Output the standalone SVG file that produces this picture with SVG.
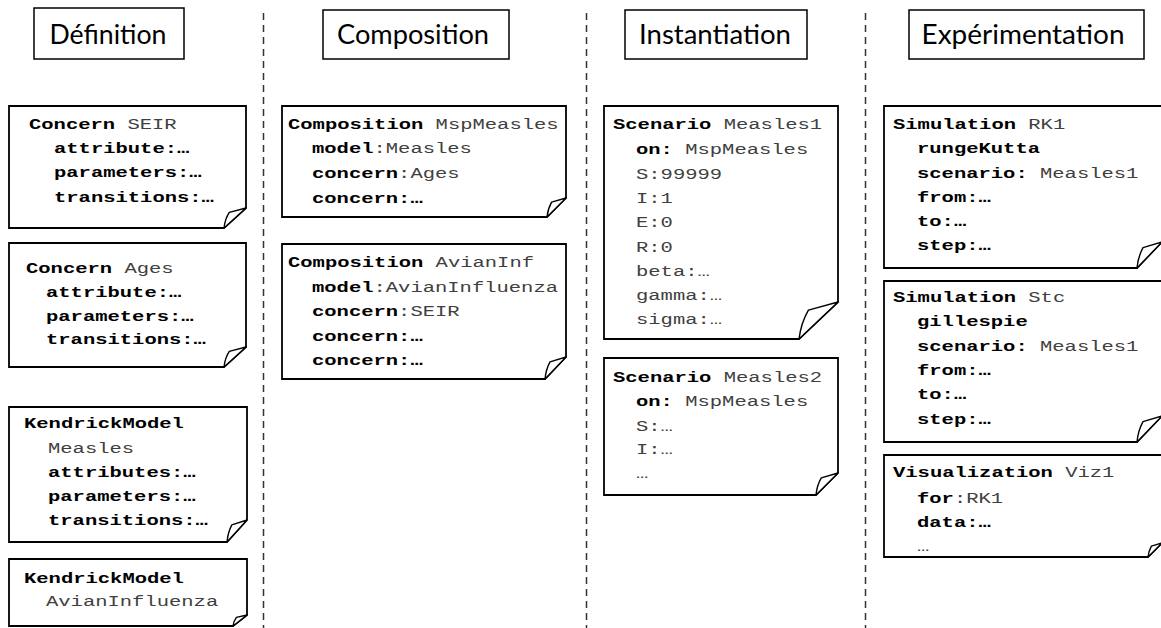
<svg xmlns="http://www.w3.org/2000/svg" width="1161" height="628" viewBox="0 0 1161 628">
<style>
.bg{fill:#fff}
.note{fill:#fff;stroke:#000;stroke-width:1.8;stroke-linejoin:miter}
.flap{fill:#fff;stroke:#000;stroke-width:1.4;stroke-linejoin:round}
.hbox{fill:#fff;stroke:#000;stroke-width:1.5}
.htxt{font-family:Lato,"Open Sans",sans-serif;font-size:26px;fill:#000;text-anchor:middle}
.sep{stroke:#333;stroke-width:1.5;stroke-dasharray:7 5;fill:none}
.m{font-family:"Liberation Mono","DejaVu Sans Mono",monospace;font-size:15.5px;fill:#404040}
.k{font-weight:bold;fill:#000}
</style>
<rect class="bg" x="0" y="0" width="1161" height="628"/>
<g id="separators">
<line class="sep" x1="263.5" y1="13" x2="263.5" y2="628"/>
<line class="sep" x1="586.5" y1="13" x2="586.5" y2="628"/>
<line class="sep" x1="865.5" y1="13" x2="865.5" y2="628"/>
</g>
<g id="hdr-definition"><rect class="hbox" x="34" y="8" width="150" height="51"/><text class="htxt" x="108" y="44" textLength="117" lengthAdjust="spacingAndGlyphs">Définition</text></g>
<g id="hdr-composition"><rect class="hbox" x="323" y="10" width="186" height="49"/><text class="htxt" x="413" y="44" textLength="152" lengthAdjust="spacingAndGlyphs">Composition</text></g>
<g id="hdr-instantiation"><rect class="hbox" x="625" y="10" width="182" height="49"/><text class="htxt" x="715" y="44" textLength="152" lengthAdjust="spacingAndGlyphs">Instantiation</text></g>
<g id="hdr-experimentation"><rect class="hbox" x="909" y="10" width="235" height="49"/><text class="htxt" x="1023" y="44" textLength="203" lengthAdjust="spacingAndGlyphs">Expérimentation</text></g>

<g id="concern-seir">
<path class="note" d="M9,106 H246 V208 L224,228 H9 Z"/>
<path class="flap" d="M224,228 Q225,219 229.3,212.4 L246,208 Z"/>
<text class="m" x="29" y="129" textLength="147.6" lengthAdjust="spacingAndGlyphs"><tspan class="k">Concern</tspan> SEIR</text>
<text class="m k" x="54" y="153" textLength="135.3" lengthAdjust="spacingAndGlyphs">attribute:…</text>
<text class="m k" x="54" y="177" textLength="147.6" lengthAdjust="spacingAndGlyphs">parameters:…</text>
<text class="m k" x="54" y="202" textLength="159.9" lengthAdjust="spacingAndGlyphs">transitions:…</text>
</g>
<g id="concern-ages">
<path class="note" d="M9,243 H246 V347 L224,367 H9 Z"/>
<path class="flap" d="M224,367 Q225,358 229.3,351.4 L246,347 Z"/>
<text class="m" x="26" y="273" textLength="147.6" lengthAdjust="spacingAndGlyphs"><tspan class="k">Concern</tspan> Ages</text>
<text class="m k" x="46" y="297" textLength="135.3" lengthAdjust="spacingAndGlyphs">attribute:…</text>
<text class="m k" x="46" y="321" textLength="147.6" lengthAdjust="spacingAndGlyphs">parameters:…</text>
<text class="m k" x="46" y="344" textLength="159.9" lengthAdjust="spacingAndGlyphs">transitions:…</text>
</g>
<g id="kendrick-measles">
<path class="note" d="M9,407 H247 V520 L227,542 H9 Z"/>
<path class="flap" d="M227,542 Q228,532 231.8,524.8 L247,520 Z"/>
<text class="m k" x="24" y="428" textLength="159.9" lengthAdjust="spacingAndGlyphs">KendrickModel</text>
<text class="m" x="48" y="453" textLength="86.1" lengthAdjust="spacingAndGlyphs">Measles</text>
<text class="m k" x="48" y="477" textLength="147.6" lengthAdjust="spacingAndGlyphs">attributes:…</text>
<text class="m k" x="48" y="501" textLength="147.6" lengthAdjust="spacingAndGlyphs">parameters:…</text>
<text class="m k" x="48" y="525" textLength="159.9" lengthAdjust="spacingAndGlyphs">transitions:…</text>
</g>
<g id="kendrick-avian">
<path class="note" d="M9,559 H247 V615 L233,626 H9 Z"/>
<path class="flap" d="M233,626 Q233.7,621 236.4,617.4 L247,615 Z"/>
<text class="m k" x="24" y="583" textLength="159.9" lengthAdjust="spacingAndGlyphs">KendrickModel</text>
<text class="m" x="46" y="606" textLength="172.2" lengthAdjust="spacingAndGlyphs">AvianInfluenza</text>
</g>

<g id="composition-mspmeasles">
<path class="note" d="M282,106 H566 V198 L547,217 H282 Z"/>
<path class="flap" d="M547,217 Q548,208.5 551.6,202.2 L566,198 Z"/>
<text class="m" x="288" y="129" textLength="270.6" lengthAdjust="spacingAndGlyphs"><tspan class="k">Composition</tspan> MspMeasles</text>
<text class="m" x="312" y="153" textLength="159.9" lengthAdjust="spacingAndGlyphs"><tspan class="k">model</tspan>:Measles</text>
<text class="m" x="312" y="178" textLength="147.6" lengthAdjust="spacingAndGlyphs"><tspan class="k">concern</tspan>:Ages</text>
<text class="m k" x="312" y="203" textLength="110.7" lengthAdjust="spacingAndGlyphs">concern:…</text>
</g>
<g id="composition-avianinf">
<path class="note" d="M282,244 H566 V357 L545,379 H282 Z"/>
<path class="flap" d="M545,379 Q546,369 550,361.8 L566,357 Z"/>
<text class="m" x="288" y="267" textLength="246" lengthAdjust="spacingAndGlyphs"><tspan class="k">Composition</tspan> AvianInf</text>
<text class="m" x="312" y="292" textLength="246" lengthAdjust="spacingAndGlyphs"><tspan class="k">model</tspan>:AvianInfluenza</text>
<text class="m" x="312" y="316" textLength="147.6" lengthAdjust="spacingAndGlyphs"><tspan class="k">concern</tspan>:SEIR</text>
<text class="m k" x="312" y="341" textLength="110.7" lengthAdjust="spacingAndGlyphs">concern:…</text>
<text class="m k" x="312" y="365" textLength="110.7" lengthAdjust="spacingAndGlyphs">concern:…</text>
</g>

<g id="scenario-measles1">
<path class="note" d="M604,106 H838 V302 L799,339 H604 Z"/>
<path class="flap" d="M799,339 Q801,323 808.4,310.1 L838,302 Z"/>
<text class="m" x="613" y="129" textLength="209.1" lengthAdjust="spacingAndGlyphs"><tspan class="k">Scenario</tspan> Measles1</text>
<text class="m" x="636" y="154" textLength="172.2" lengthAdjust="spacingAndGlyphs"><tspan class="k">on:</tspan> MspMeasles</text>
<text class="m" x="636" y="179" textLength="86.1" lengthAdjust="spacingAndGlyphs">S:99999</text>
<text class="m" x="636" y="203" textLength="36.9" lengthAdjust="spacingAndGlyphs">I:1</text>
<text class="m" x="636" y="227" textLength="36.9" lengthAdjust="spacingAndGlyphs">E:0</text>
<text class="m" x="636" y="252" textLength="36.9" lengthAdjust="spacingAndGlyphs">R:0</text>
<text class="m" x="636" y="276" textLength="73.8" lengthAdjust="spacingAndGlyphs">beta:…</text>
<text class="m" x="636" y="300" textLength="86.1" lengthAdjust="spacingAndGlyphs">gamma:…</text>
<text class="m" x="636" y="324" textLength="86.1" lengthAdjust="spacingAndGlyphs">sigma:…</text>
</g>
<g id="scenario-measles2">
<path class="note" d="M604,358 H838 V473 L816,495 H604 Z"/>
<path class="flap" d="M816,495 Q817,485 821.3,477.8 L838,473 Z"/>
<text class="m" x="613" y="382" textLength="209.1" lengthAdjust="spacingAndGlyphs"><tspan class="k">Scenario</tspan> Measles2</text>
<text class="m" x="636" y="406" textLength="172.2" lengthAdjust="spacingAndGlyphs"><tspan class="k">on:</tspan> MspMeasles</text>
<text class="m" x="636" y="431" textLength="36.9" lengthAdjust="spacingAndGlyphs">S:…</text>
<text class="m" x="636" y="454" textLength="36.9" lengthAdjust="spacingAndGlyphs">I:…</text>
<text class="m" x="636" y="478" textLength="12.3" lengthAdjust="spacingAndGlyphs">…</text>
</g>

<g id="simulation-rk1">
<path class="note" d="M884,106 H1162 V242 L1137,268 H884 Z"/>
<path class="flap" d="M1137,268 Q1138,257 1143,247.7 L1162,242 Z"/>
<text class="m" x="893" y="129" textLength="172.2" lengthAdjust="spacingAndGlyphs"><tspan class="k">Simulation</tspan> RK1</text>
<text class="m k" x="917" y="153" textLength="123" lengthAdjust="spacingAndGlyphs">rungeKutta</text>
<text class="m" x="917" y="178" textLength="221.4" lengthAdjust="spacingAndGlyphs"><tspan class="k">scenario:</tspan> Measles1</text>
<text class="m k" x="917" y="202" textLength="73.8" lengthAdjust="spacingAndGlyphs">from:…</text>
<text class="m k" x="917" y="226" textLength="49.2" lengthAdjust="spacingAndGlyphs">to:…</text>
<text class="m k" x="917" y="250" textLength="73.8" lengthAdjust="spacingAndGlyphs">step:…</text>
</g>
<g id="simulation-stc">
<path class="note" d="M884,281 H1162 V416 L1137,442 H884 Z"/>
<path class="flap" d="M1137,442 Q1138,431 1143,421.7 L1162,416 Z"/>
<text class="m" x="893" y="302" textLength="172.2" lengthAdjust="spacingAndGlyphs"><tspan class="k">Simulation</tspan> Stc</text>
<text class="m k" x="917" y="326" textLength="110.7" lengthAdjust="spacingAndGlyphs">gillespie</text>
<text class="m" x="917" y="351" textLength="221.4" lengthAdjust="spacingAndGlyphs"><tspan class="k">scenario:</tspan> Measles1</text>
<text class="m k" x="917" y="375" textLength="73.8" lengthAdjust="spacingAndGlyphs">from:…</text>
<text class="m k" x="917" y="399" textLength="49.2" lengthAdjust="spacingAndGlyphs">to:…</text>
<text class="m k" x="917" y="424" textLength="73.8" lengthAdjust="spacingAndGlyphs">step:…</text>
</g>
<g id="visualization-viz1">
<path class="note" d="M884,455 H1162 V543 L1148,557 H884 Z"/>
<path class="flap" d="M1148,557 Q1148.7,551 1151.4,546.1 L1162,543 Z"/>
<text class="m" x="893" y="477" textLength="221.4" lengthAdjust="spacingAndGlyphs"><tspan class="k">Visualization</tspan> Viz1</text>
<text class="m" x="917" y="503" textLength="86.1" lengthAdjust="spacingAndGlyphs"><tspan class="k">for</tspan>:RK1</text>
<text class="m k" x="917" y="527" textLength="73.8" lengthAdjust="spacingAndGlyphs">data:…</text>
<text class="m" x="917" y="551" textLength="12.3" lengthAdjust="spacingAndGlyphs">…</text>
</g>
</svg>
